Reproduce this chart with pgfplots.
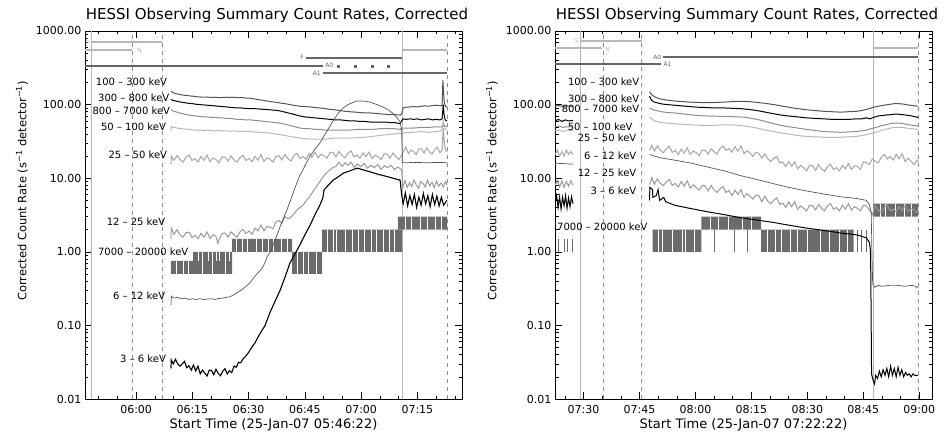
\documentclass[border=0pt]{standalone}
\usepackage{fontspec}
\setmainfont{DejaVu Sans}
\usepackage{pgfplots}
\pgfplotsset{compat=1.18}

\definecolor{cA}{gray}{0.33}  % 100-300, 6-12
\definecolor{cB}{gray}{0.55}  % 800-7000
\definecolor{cC}{gray}{0.72}  % 50-100
\definecolor{cD}{gray}{0.67}  % 25-50
\definecolor{cE}{gray}{0.60}  % 12-25
\definecolor{cF}{gray}{0.42}  % 7000-20000
\definecolor{cS}{gray}{0.40}  % state bars (dark)
\definecolor{cL}{gray}{0.72}  % state bars (light), solid verticals
\definecolor{cV}{gray}{0.55}  % dashed verticals

\tikzset{
  lab/.style={font=\fontsize{10}{12}\selectfont, inner sep=0pt},
  stl/.style={font=\fontsize{6}{7}\selectfont, inner sep=0pt},
  band/.style={fill=cF, draw=none},
  gapl/.style={white, line width=0.8pt},
  vsol/.style={cL, line width=0.8pt},
  vdash/.style={cV, line width=0.6pt, dash pattern=on 4pt off 4pt},
  sbar/.style={line width=1.6pt},
  ttl/.style={font=\fontsize{15}{18}\selectfont, inner sep=0pt},
  ylab/.style={font=\fontsize{11.5}{14}\selectfont, inner sep=0pt, rotate=90},
}

\begin{document}
\begin{tikzpicture}
\useasboundingbox (-85pt,-39pt) rectangle (860pt,399pt);

% ---------------- left panel ----------------
\begin{axis}[scale only axis, width=377pt, height=368pt, at={(0pt,0pt)}, anchor=south west,
  ymode=log, ymin=0.01, ymax=1000,
  ytick={0.01,0.1,1,10,100,1000},
  yticklabels={0.01,0.10,1.00,10.00,100.00,1000.00},
  minor ytick={0.02,0.03,0.04,0.05,0.06,0.07,0.08,0.09,0.2,0.3,0.4,0.5,0.6,0.7,0.8,0.9,2,3,4,5,6,7,8,9,20,30,40,50,60,70,80,90,200,300,400,500,600,700,800,900},
  tick align=inside, major tick length=7pt, minor tick length=3.5pt,
  axis line style={line width=0.6pt},
  every tick/.append style={black, line width=0.5pt},
  tick label style={font=\fontsize{11}{13}\selectfont},
  xticklabel style={yshift=-3pt},
  xlabel style={font=\fontsize{13}{15}\selectfont, at={(axis description cs:0.5,-0.071)}, anchor=center},
  unbounded coords=jump,
  xmin=346.37, xmax=446.9,
  xtick={360,375,390,405,420,435},
  xticklabels={06:00,06:15,06:30,06:45,07:00,07:15},
  minor xtick={350,355,365,370,380,385,395,400,410,415,425,430,440,445},
  xlabel={Start Time (25-Jan-07 05:46:22)}]

\addplot[vsol] coordinates {(348.2,0.01)(348.2,1000)};
\addplot[vdash] coordinates {(358.9,0.01)(358.9,1000)};
\addplot[vdash] coordinates {(366.9,0.01)(366.9,1000)};
\addplot[vsol] coordinates {(430.9,0.01)(430.9,1000)};
\addplot[vdash] coordinates {(442.9,0.01)(442.9,1000)};

% state bars
\addplot[sbar, cL] coordinates {(348.2,709)(366.9,709)};
\addplot[sbar, cL] coordinates {(346.37,552)(358.9,552)};
\addplot[sbar, cL] coordinates {(431.2,552)(442.9,552)};
\addplot[sbar, cS] coordinates {(346.37,334)(409.8,334)};
\addplot[sbar, cS] coordinates {(405.3,430)(430.9,430)};
\addplot[sbar, cS] coordinates {(409.8,268)(442.9,268)};
\addplot[only marks, mark=square*, mark size=1pt, cS] coordinates {(413.8,334)(418.4,334)(422.9,334)(427.2,334)};

% 7000-20000 keV
\addplot[band] coordinates {(369.3,0.5)(369.3,0.75)(375.2,0.75)(375.2,0.5)(369.3,0.5)};
\addplot[band] coordinates {(375.2,0.5)(375.2,1.0)(385.6,1.0)(385.6,0.5)(375.2,0.5)};
\addplot[band] coordinates {(385.6,1.0)(385.6,1.5)(401.6,1.5)(401.6,1.0)(385.6,1.0)};
\addplot[band] coordinates {(401.6,0.5)(401.6,1.0)(409.6,1.0)(409.6,0.5)(401.6,0.5)};
\addplot[band] coordinates {(409.6,1.0)(409.6,2.0)(430.9,2.0)(430.9,1.0)(409.6,1.0)};
\addplot[band] coordinates {(429.8,2.0)(429.8,3.0)(442.9,3.0)(442.9,2.0)(429.8,2.0)};
\addplot[gapl] coordinates {(370.8,0.5)(370.8,0.75)(370.8,nan)(372.6,0.5)(372.6,0.75)(372.6,nan)(374.0,0.5)(374.0,0.75)(374.0,nan)
 (377.8,0.5)(377.8,1)(377.8,nan)(380.4,0.5)(380.4,1)(380.4,nan)(383.9,0.5)(383.9,1)(383.9,nan)
 (376.5,0.75)(376.5,1)(376.5,nan)(379.2,0.75)(379.2,1)(379.2,nan)(381.5,0.75)(381.5,1)(381.5,nan)(382.2,0.75)(382.2,1)(382.2,nan)(384.8,0.75)(384.8,1)(384.8,nan)
 (386.8,1)(386.8,1.5)(386.8,nan)(388.3,1)(388.3,1.5)(388.3,nan)(389.6,1)(389.6,1.5)(389.6,nan)(392.0,1)(392.0,1.5)(392.0,nan)(393.8,1)(393.8,1.5)(393.8,nan)
 (395.2,1)(395.2,1.5)(395.2,nan)(396.6,1)(396.6,1.5)(396.6,nan)(398.8,1)(398.8,1.5)(398.8,nan)(400.4,1)(400.4,1.5)(400.4,nan)
 (402.9,0.5)(402.9,1)(402.9,nan)(404.6,0.5)(404.6,1)(404.6,nan)(406.0,0.5)(406.0,1)(406.0,nan)(408.2,0.5)(408.2,1)(408.2,nan)
 (410.9,1)(410.9,2)(410.9,nan)(412.6,1)(412.6,2)(412.6,nan)(413.4,1)(413.4,2)(413.4,nan)(415.8,1)(415.8,2)(415.8,nan)(417.6,1)(417.6,2)(417.6,nan)
 (419.3,1)(419.3,2)(419.3,nan)(421.0,1)(421.0,2)(421.0,nan)(422.8,1)(422.8,2)(422.8,nan)(424.1,1)(424.1,2)(424.1,nan)(425.9,1)(425.9,2)(425.9,nan)
 (427.6,1)(427.6,2)(427.6,nan)(429.0,1)(429.0,2)(429.0,nan)
 (431.9,2)(431.9,3)(431.9,nan)(433.5,2)(433.5,3)(433.5,nan)(435.8,2)(435.8,3)(435.8,nan)(437.6,2)(437.6,3)(437.6,nan)(439.9,2)(439.9,3)(439.9,nan)(441.4,2)(441.4,3)};

% 50-100 keV
\addplot[cC, line width=1pt] coordinates {(369.3,44)(369.4,50)(370,49)(371,48)(372,47)(373,46.5)(374,46)(375,45.5)(376,45)(377,45)(378,44.5)(379,45)(380,44.5)(381,44)(382,44.5)(383,44)(384,44)(385,43.5)(386,44)(387,43.5)(388,43)(389,43.5)(390.4,43)(391.7,42.5)(393,42)(394.4,41.5)(395.7,41)(397,40)(398.4,39)(399.7,38)(401,37)(402.4,36)(403.7,35)(405,34.5)(406.4,34)(407.7,34)(409,34)(410.4,34)(411.7,34.5)(413,35)(415,35)(417,35)(419,35.5)(421,36)(423,37)(425,38)(427,39)(429,40)(430.4,41)(430.8,40)(432,42)(434,42)(436,43)(438,42)(440,43)(441.5,44)(441.9,60)(442.2,48)(442.9,45)};
% 25-50 keV
\addplot[cD, line width=1.1pt] coordinates {(369.3,15.5)(369.4,20)(370.1,17.5)(370.9,20.3)(371.7,18.0)(372.5,16.6)(373.3,19.2)(374.1,20.6)(374.9,17.4)(375.7,18.5)(376.5,16.6)(377.3,19.7)(378.1,17.5)(378.9,20.6)(379.7,16.8)(380.5,18.8)(381.3,17.9)(382.1,16.2)(382.9,19.5)(383.7,19.3)(384.5,17.0)(385.3,20.1)(386.1,17.7)(386.9,16.5)(387.7,19.0)(388.5,20.5)(389.3,17.4)(390.1,18.5)(390.9,16.7)(391.7,19.8)(392.5,17.6)(393.3,20.7)(394.1,16.9)(394.9,18.9)(395.7,18.1)(396.5,16.5)(397.3,19.8)(398.1,20.1)(398.9,17.7)(399.7,20.9)(400.5,18.4)(401.3,17.1)(402.1,20.3)(402.9,21.8)(403.7,18.5)(404.5,19.7)(405.3,18.2)(406.1,21.6)(406.9,19.2)(407.7,22.6)(408.5,18.9)(409.3,21.1)(410.1,20.1)(410.9,18.7)(411.7,22.5)(412.5,22.3)(413.3,19.5)(414.1,23.1)(414.9,20.4)(415.7,18.9)(416.5,21.8)(417.3,23.5)(418.1,19.5)(418.9,20.7)(419.7,18.7)(420.5,22.1)(421.3,19.7)(422.1,22.6)(422.9,18.4)(423.7,20.6)(424.5,19.6)(425.3,17.8)(426.1,21.4)(426.9,21.2)(427.7,18.6)(428.5,22)(429.3,19.4)(430.1,18)(430.8,20.5)(431.2,22.6)(431.9,26.5)(432.6,21.6)(433.3,24.2)(434.0,23.0)(434.7,20.9)(435.4,25.1)(436.1,24.9)(436.8,21.9)(437.5,25.9)(438.2,22.8)(438.9,21.2)(439.6,24.4)(440.3,26.3)(441.0,22.3)(441.6,23.7)(441.9,48)(442.2,30)(442.5,24)(442.9,23)};
% 12-25 keV
\addplot[cE, line width=1pt] coordinates {(369.3,1.5)(369.4,2.1)(370.1,1.72)(370.9,2.0)(371.7,1.70)(372.5,1.58)(373.3,1.82)(374.1,1.85)(374.9,1.57)(375.7,1.67)(376.5,1.50)(377.3,1.78)(378.1,1.58)(378.9,1.86)(379.7,1.52)(380.5,1.70)(381.3,1.62)(381.8,1.3)(382.1,1.47)(382.9,1.77)(383.7,1.80)(384.5,1.58)(385.3,1.87)(386.1,1.70)(386.9,1.58)(387.7,1.87)(388.5,2.02)(389.3,1.76)(390.1,1.92)(390.9,1.73)(391.7,2.1)(392.5,1.92)(393.3,2.32)(394.1,1.93)(394.9,2.21)(395.7,2.16)(396.5,2.05)(397.3,2.57)(398.1,2.65)(398.9,2.42)(399.7,3.02)(400.5,2.81)(401.3,2.95)(402.1,3.3)(402.9,3.7)(403.7,4.0)(404.5,4.3)(405.3,4.9)(406.1,5.5)(406.9,6.3)(407.7,7.2)(408.5,8.3)(409.3,9.5)(410.1,10.8)(410.9,12)(411.7,13)(412.5,14)(413.3,14.5)(414.1,16.5)(414.9,14.4)(415.7,16.2)(416.5,15)(417.3,16.6)(418.1,14)(419.0,15.6)(419.9,14.3)(420.8,15.8)(421.7,13.7)(422.6,15)(423.5,13.9)(424.4,15.4)(425.3,13.2)(426.2,14.8)(427.1,13.9)(428.0,15)(428.9,13.1)(429.8,14.2)(430.8,13)(431.1,7.5)(431.7,9.3)(432.3,7.5)(432.9,8.7)(433.5,7.7)(434.1,9.5)(434.7,8.1)(435.3,7.3)(435.9,9.0)(436.5,8.5)(437.1,7.6)(437.7,9.4)(438.3,7.9)(438.9,8.8)(439.5,7.4)(440.1,9.1)(440.7,7.8)(441.3,8.6)(441.9,7.6)(442.5,9.0)(442.9,8.0)};
% 800-7000 keV
\addplot[cB, line width=1pt] coordinates {(369.3,86)(369.8,82)(370.5,80)(371.2,78)(372,76)(373,74)(374,72)(375,71)(376,70)(377,69)(378,68)(379,68)(380,67)(381,67)(382,66)(383,66)(384,65)(385,65)(386,64)(387,63)(388,63)(389,62)(390.4,62)(391.7,61)(393,60)(394.4,59)(395.7,58)(397,57)(398.4,56)(399.7,54)(401,52)(402.4,50)(403.7,48)(405,47)(406.4,47)(407.7,46)(409,46)(410.4,45)(411.7,45)(413,45)(415,45)(417,45)(419,46)(421,46)(423,46)(425,47)(427,47)(429,47)(430.4,46)(430.8,48)(432,48)(434,48)(436,49)(438,49)(440,50)(441.5,50)(442,52)(442.9,50)};
% 100-300 keV
\addplot[cA, line width=1pt] coordinates {(369.3,152)(369.8,146)(370.5,141)(371.2,139)(372,136)(372.8,134)(373.6,133)(374.4,131)(375.2,130)(376,128)(377,127)(378,126)(379,127)(380,125)(381,126)(382,124)(383,125)(384,126)(385,125)(386,126)(387,124)(388,125)(389,123)(390.4,122)(391.7,119)(393,116)(394.4,113)(395.7,110)(397,108)(398.4,105)(399.7,103)(401,100)(402.4,97)(403.7,95)(405,94)(406.4,93)(407.7,91)(409,90)(410.4,88)(411.7,86)(413,85)(414.4,83)(415.7,81)(417,80)(418.4,79)(419.7,78)(421,77)(422.4,77)(423.7,76)(425,75)(426.4,74)(427.7,73)(429,73)(430.4,72)(430.8,75)(431.2,90)(432,92)(433,93)(434,94)(435,93)(436,95)(437,96)(438,95)(439,97)(440,98)(441,97)(441.6,96)(441.8,216)(442,140)(442.2,105)(442.5,95)(442.9,93)};
% 300-800 keV
\addplot[black, line width=1pt] coordinates {(369.3,118)(369.8,114)(370.5,112)(371.2,110)(372,108)(373,106)(374,104)(375,103)(376,101)(377,100)(378,99)(379,98)(380,97)(381,96)(382,95)(383,94)(384,93)(385,92)(386,91)(387,90)(388,90)(389,89)(390.4,88)(391.7,88)(393,87)(394.4,86)(395.7,85)(397,84)(398.4,82)(399.7,79)(401,76)(402.4,73)(403.7,70)(405,68)(406.4,67)(407.7,66)(409,65)(410.4,64)(411.7,63)(413,62)(414.4,62)(415.7,61)(417,60)(418.4,60)(419.7,59)(421,59)(422.4,58)(423.7,58)(425,58)(426.4,58)(427.7,57)(429,57)(430.4,55)(430.8,60)(431.2,64)(432,63)(433,64)(434,63)(435,64)(436,62)(437,63)(438,64)(439,62)(440,63)(441,62)(441.6,64)(441.9,100)(442.1,75)(442.4,62)(442.9,60)};
% 6-12 keV
\addplot[cA, line width=0.7pt] coordinates {(369.3,0.19)(369.4,0.25)(370,0.235)(371,0.24)(372,0.23)(373,0.235)(374,0.225)(375,0.23)(376,0.225)(377,0.23)(378,0.225)(379,0.228)(380,0.23)(381,0.225)(382,0.232)(383,0.235)(384,0.24)(385,0.245)(386,0.26)(387,0.28)(388,0.3)(389,0.33)(390.4,0.38)(391.3,0.44)(392.2,0.5)(393,0.55)(393.6,0.6)(394.3,0.7)(394.9,0.85)(395.5,0.95)(396.2,1.1)(396.9,1.4)(397.6,1.7)(398.4,2.2)(399.2,2.8)(400.2,3.7)(401.3,5.2)(402.4,7.5)(403.5,10.5)(404.5,13)(405.5,16.5)(406.4,20)(407.7,25)(409,30)(410.2,38)(411.4,48)(412.5,60)(413.8,75)(415.2,90)(416.5,100)(418,108)(418.9,112)(420.5,112)(422.4,108)(424,101)(425.8,93)(427.2,85)(428.5,76)(429.5,67)(430.4,58)(430.8,45)(431.0,16.3)(432,16.2)(434,16.4)(436,16.3)(438,16.2)(440,16.4)(442,16.3)(442.9,16.2)};
% 3-6 keV
\addplot[black, line width=1.1pt] coordinates {(369.3,0.026)(369.35,0.034)(369.9,0.030)(370.5,0.0345)(371.1,0.030)(371.7,0.028)(372.3,0.030)(372.9,0.0325)(373.5,0.0266)(374.1,0.0283)(374.7,0.0246)(375.3,0.029)(375.9,0.024)(376.5,0.028)(377.1,0.022)(377.7,0.0247)(378.3,0.0225)(378.9,0.0205)(379.5,0.0246)(380.1,0.0244)(380.7,0.0214)(381.3,0.0253)(381.9,0.0223)(382.5,0.0207)(383.1,0.0239)(383.7,0.0258)(384.3,0.0219)(384.9,0.0242)(385.5,0.0228)(386.1,0.028)(386.7,0.027)(387.3,0.0315)(387.9,0.031)(388.5,0.035)(389.2,0.038)(390.0,0.043)(390.8,0.05)(391.7,0.058)(393,0.077)(394.4,0.1)(395.7,0.15)(397,0.21)(398.4,0.3)(399.7,0.45)(401,0.7)(402.9,1.05)(403.7,1.25)(405,1.7)(406.4,2.3)(407.7,3.2)(409,4.3)(409.8,5.4)(410.1,6.9)(411,7.8)(412.5,9.4)(414,10.5)(415.2,11.7)(416.5,12.3)(418.9,13.7)(420.5,13)(422.4,12.2)(424.5,11.3)(426.4,10.7)(428.5,10)(430.4,9.4)(430.8,6)(431.2,4.5)(431.8,6.3)(432.4,4.2)(433,5.8)(433.6,4.4)(434.2,6)(434.8,4)(435.4,5.5)(436,4.3)(436.6,6.2)(437.2,4.5)(437.8,5.8)(438.4,4.1)(439,6)(439.6,4.4)(440.2,5.7)(440.8,4.2)(441.4,5.5)(442,4.3)(442.9,5)};

% labels
\node[stl, text=cL, anchor=west] at (axis cs:346.6,720) {S};
\node[stl, text=cL, anchor=west] at (axis cs:360.2,540) {N};
\node[stl, text=cS, anchor=east] at (axis cs:404.8,440) {F};
\node[stl, text=cS, anchor=west] at (axis cs:410.4,340) {A0};
\node[stl, text=cS, anchor=east] at (axis cs:409.3,268) {A1};
\node[lab, anchor=east] at (axis cs:368.3,203) {100 -- 300 keV};
\node[lab, anchor=east] at (axis cs:368.9,123) {300 -- 800 keV};
\node[lab, anchor=east] at (axis cs:369.1,82) {800 -- 7000 keV};
\node[lab, anchor=east] at (axis cs:368.0,49.6) {50 -- 100 keV};
\node[lab, anchor=east] at (axis cs:368.3,20.7) {25 -- 50 keV};
\node[lab, anchor=east] at (axis cs:367.8,2.54) {12 -- 25 keV};
\node[lab, anchor=west] at (axis cs:349.8,1.0) {7000 -- 20000 keV};
\node[lab, anchor=east] at (axis cs:367.8,0.25) {6 -- 12 keV};
\node[lab, anchor=east] at (axis cs:368.0,0.035) {3 -- 6 keV};
\end{axis}
\node[ttl] at (192pt,384pt) {HESSI Observing Summary Count Rates, Corrected};
\node[ylab] at (-63pt,208pt) {Corrected Count Rate (s\textsuperscript{−1} detector\textsuperscript{−1})};

% ---------------- right panel ----------------
\begin{axis}[scale only axis, width=377pt, height=368pt, at={(470pt,0pt)}, anchor=south west,
  ymode=log, ymin=0.01, ymax=1000,
  ytick={0.01,0.1,1,10,100,1000},
  yticklabels={0.01,0.10,1.00,10.00,100.00,1000.00},
  minor ytick={0.02,0.03,0.04,0.05,0.06,0.07,0.08,0.09,0.2,0.3,0.4,0.5,0.6,0.7,0.8,0.9,2,3,4,5,6,7,8,9,20,30,40,50,60,70,80,90,200,300,400,500,600,700,800,900},
  tick align=inside, major tick length=7pt, minor tick length=3.5pt,
  axis line style={line width=0.6pt},
  every tick/.append style={black, line width=0.5pt},
  tick label style={font=\fontsize{11}{13}\selectfont},
  xticklabel style={yshift=-3pt},
  xlabel style={font=\fontsize{13}{15}\selectfont, at={(axis description cs:0.5,-0.071)}, anchor=center},
  unbounded coords=jump,
  xmin=442.37, xmax=543.4,
  xtick={450,465,480,495,510,525,540},
  xticklabels={07:30,07:45,08:00,08:15,08:30,08:45,09:00},
  minor xtick={445,455,460,470,475,485,490,500,505,515,520,530,535},
  xlabel={Start Time (25-Jan-07 07:22:22)}]

\addplot[vsol] coordinates {(449.3,0.01)(449.3,1000)};
\addplot[vdash] coordinates {(455.2,0.01)(455.2,1000)};
\addplot[vdash] coordinates {(465.6,0.01)(465.6,1000)};
\addplot[vsol] coordinates {(527.7,0.01)(527.7,1000)};
\addplot[vdash] coordinates {(539.7,0.01)(539.7,1000)};

% state bars
\addplot[sbar, cL] coordinates {(449.3,732)(465.6,732)};
\addplot[sbar, cL] coordinates {(442.37,587)(454.9,587)};
\addplot[sbar, cL] coordinates {(527.7,587)(539.7,587)};
\addplot[sbar, cS] coordinates {(471.4,443)(539.7,443)};
\addplot[sbar, cS] coordinates {(442.37,356)(470.9,356)};

% 7000-20000 keV
\addplot[cF, line width=0.8pt] coordinates {(443.2,1)(443.2,1.5)(443.2,nan)(444.8,1)(444.8,1.5)(444.8,nan)(445.8,1)(445.8,1.5)(445.8,nan)(447.0,1)(447.0,1.5)(447.0,nan)
 (485,1)(485,2)(485,nan)(490.5,1)(490.5,2)(490.5,nan)(494,1)(494,2)(494,nan)
 (523.3,1)(523.3,2)(523.3,nan)(524.5,1)(524.5,2)(524.5,nan)(525.8,1)(525.8,2)};
\addplot[band] coordinates {(468.5,1.0)(468.5,2.0)(481.6,2.0)(481.6,1.0)(468.5,1.0)};
\addplot[band] coordinates {(481.6,2.0)(481.6,3.0)(497.6,3.0)(497.6,2.0)(481.6,2.0)};
\addplot[band] coordinates {(497.6,1.0)(497.6,2.0)(522.4,2.0)(522.4,1.0)(497.6,1.0)};
\addplot[band] coordinates {(527.7,3.0)(527.7,4.5)(539.7,4.5)(539.7,3.0)(527.7,3.0)};
\addplot[gapl] coordinates {(470.0,1)(470.0,2)(470.0,nan)(471.2,1)(471.2,2)(471.2,nan)(473.9,1)(473.9,2)(473.9,nan)(476.5,1)(476.5,2)(476.5,nan)(477.3,1)(477.3,2)(477.3,nan)(479.8,1)(479.8,2)(479.8,nan)
 (483.9,2)(483.9,3)(483.9,nan)(486.2,2)(486.2,3)(486.2,nan)(488.8,2)(488.8,3)(488.8,nan)(492.5,2)(492.5,3)(492.5,nan)(495.0,2)(495.0,3)(495.0,nan)
 (499.2,1)(499.2,2)(499.2,nan)(501.3,1)(501.3,2)(501.3,nan)(503.0,1)(503.0,2)(503.0,nan)(505.5,1)(505.5,2)(505.5,nan)(507.4,1)(507.4,2)(507.4,nan)
 (510.0,1)(510.0,2)(510.0,nan)(513.5,1)(513.5,2)(513.5,nan)(516.0,1)(516.0,2)(516.0,nan)(518.6,1)(518.6,2)(518.6,nan)(520.8,1)(520.8,2)(520.8,nan)
 (529.5,3)(529.5,4.5)(529.5,nan)(531.0,3)(531.0,4.5)(531.0,nan)(533.6,3)(533.6,4.5)(533.6,nan)(536.0,3)(536.0,4.5)(536.0,nan)(538.0,3)(538.0,4.5)};

% segment before the night gap
\addplot[cA, line width=1pt] coordinates {(442.4,95)(443.5,97)(444.5,94)(445.5,96)(446.5,95)(447.2,94)};
\addplot[black, line width=1pt] coordinates {(442.4,60)(443.3,63)(444.2,59)(445.1,62)(446,60)(447.2,61)};
\addplot[cB, line width=1pt] coordinates {(442.4,50)(443.5,51)(444.5,49)(445.5,50)(447.2,50)};
\addplot[cC, line width=1pt] coordinates {(442.4,44)(443.5,45)(444.5,43)(445.5,45)(447.2,44)};
\addplot[cD, line width=1.1pt] coordinates {(442.4,21)(443,24)(443.6,20)(444.2,23)(444.8,20)(445.4,24)(446,21)(446.6,23)(447.2,21)};
\addplot[cA, line width=0.7pt] coordinates {(442.4,16)(447.2,15.5)};
\addplot[cE, line width=1pt] coordinates {(442.4,8)(443,9.3)(443.6,7.6)(444.2,9.2)(444.8,7.5)(445.4,9)(446,7.8)(446.6,9.2)(447.2,8)};
\addplot[black, line width=1pt] coordinates {(442.4,4.5)(442.8,5.8)(443.2,4)(443.6,5.6)(444,3.8)(444.4,5.5)(444.8,4.2)(445.2,5.8)(445.6,3.9)(446,5.4)(446.4,4.1)(446.8,5.6)(447.2,4.5)};

% 50-100 keV
\addplot[cC, line width=1pt] coordinates {(467.7,68)(469,60)(471,57)(472.5,56)(474.4,55)(476.4,54)(478.4,53)(480.8,52.5)(483.2,52)(485.5,52.5)(487.7,53)(490,53)(492.2,52)(494.3,50)(496.5,48)(498.7,45)(501,43)(503,41)(505,40)(507.4,38)(509.8,37)(512,36.5)(514.4,36)(516.6,36)(518.9,36)(521,36.5)(523.2,37)(524.5,38)(525.8,39)(527.7,41)(529,43)(530,45)(531,46)(532.2,48)(533.3,49)(534.4,49)(535.5,49)(536.5,48)(538,47)(539.7,46)};
% 25-50 keV
\addplot[cD, line width=1.1pt] coordinates {(467.7,24)(468.3,28)(469.0,23.3)(469.8,27.5)(470.6,23.9)(471.4,22.1)(472.2,25.2)(473.0,27.1)(473.8,22.4)(474.6,23.8)(475.4,20.9)(476.2,24.8)(477.0,21.9)(477.8,25.8)(478.6,20.9)(479.4,23.4)(480.2,22.1)(481.0,20.1)(481.8,24.1)(482.6,23.9)(483.4,21.2)(484.2,25.1)(485.0,22.8)(485.8,21.2)(486.6,25.5)(487.4,27.4)(488.2,23.8)(489.0,25.3)(489.8,22.6)(490.6,26.8)(491.4,23.3)(492.2,27.5)(493.0,21.6)(493.8,23.7)(494.6,22.1)(495.4,19.8)(496.2,22.5)(497.0,21.7)(497.8,18.6)(498.6,21.5)(499.4,18.4)(500.2,16.9)(501.0,18.7)(501.8,19.6)(502.6,16.1)(503.4,16.6)(504.2,14.4)(505.0,16.8)(505.8,14.5)(506.6,16.8)(507.4,13.4)(508.2,14.9)(509.0,13.9)(509.8,12.6)(510.6,15.0)(511.4,14.8)(512.2,12.8)(513.0,15.2)(513.8,13.4)(514.6,12.4)(515.4,14.4)(516.2,15.5)(517.0,13.1)(517.8,13.9)(518.6,12.6)(519.4,14.9)(520.2,13.4)(521.0,15.8)(521.8,13.2)(522.6,14.7)(523.4,14.5)(524.2,13.2)(525.0,16.6)(525.8,16.4)(526.6,15.3)(527.4,18.2)(528.2,17.0)(529.0,16.1)(529.8,19.2)(530.6,21.0)(531.4,18.3)(532.2,19.7)(533.0,17.7)(533.8,21.1)(534.6,18.4)(535.4,21.5)(536.2,16.8)(537.0,18.6)(537.8,17.0)(538.6,15.2)(539.4,17.7)(539.7,16.3)};
% 12-25 keV
\addplot[cE, line width=1pt] coordinates {(467.7,8.2)(468.3,10.2)(469.0,8.3)(469.8,9.8)(470.6,8.5)(471.4,7.9)(472.2,8.9)(473.0,9.6)(473.8,8.0)(474.6,8.5)(475.4,7.6)(476.2,9.0)(477.0,7.8)(477.8,9.2)(478.6,7.3)(479.4,8.1)(480.2,7.5)(481.0,6.9)(481.8,8.0)(482.6,7.9)(483.4,6.7)(484.2,8.0)(485.0,6.9)(485.8,6.4)(486.6,7.2)(487.4,7.7)(488.2,6.4)(489.0,6.8)(489.8,5.8)(490.6,6.9)(491.4,6.0)(492.2,7.0)(493.0,5.5)(493.8,6.2)(494.6,5.7)(495.4,5.2)(496.2,5.9)(497.0,5.8)(497.8,4.8)(498.6,5.7)(499.4,4.85)(500.2,4.5)(501.0,5.0)(501.8,5.4)(502.6,4.4)(503.4,4.6)(504.2,4.0)(505.0,4.75)(505.8,4.1)(506.6,4.8)(507.4,3.8)(508.2,4.2)(509.0,3.9)(509.8,3.6)(510.6,4.3)(511.4,4.2)(512.2,3.7)(513.0,4.4)(513.8,3.9)(514.6,3.6)(515.4,4.2)(516.2,4.5)(517.0,3.8)(517.8,4.0)(518.6,3.6)(519.4,4.3)(520.2,3.8)(521.0,4.5)(521.8,3.7)(522.6,4.1)(523.4,3.9)(524.2,3.6)(525.0,4.3)(525.8,4.2)(526.6,3.7)(527.4,3.2)(528.2,4.2)(529.0,3.7)(529.8,3.4)(530.6,4.0)(531.4,4.3)(532.2,3.6)(533.0,3.8)(533.8,3.5)(534.6,4.1)(535.4,3.6)(536.2,4.3)(537.0,3.5)(537.8,3.9)(538.6,3.7)(539.4,3.4)(539.7,3.6)};
% 800-7000 keV
\addplot[cB, line width=1pt] coordinates {(467.7,90)(469,84)(471,80)(472.5,78)(474.4,77)(476.4,75)(478.4,73)(480.8,71)(483.2,70)(485.5,69.5)(487.7,69)(490,68.5)(492.2,68)(494.3,66)(496.5,63)(498.7,59)(501,55)(503,52)(505,50)(507.4,48)(509.8,46)(512,44.5)(514.4,43)(516.6,42.5)(518.9,42)(521,42.5)(523.2,43)(524.5,44)(525.8,45)(527.7,48)(529,50)(530,52)(531,53)(532.2,55)(533.3,56)(534.4,56)(535.5,55.5)(536.5,54)(538,52.5)(539.7,51)};
% 100-300 keV
\addplot[cA, line width=1pt] coordinates {(467.7,150)(468.2,138)(469,128)(470,122)(471,118)(472.5,115)(474.4,112)(476.4,110)(478.4,108)(480.8,107)(483.2,106)(485.5,107)(487.7,108)(490,110)(492.2,111)(494.3,110)(496.5,107)(498.7,104)(501,100)(503,96)(505,92)(507.4,88)(509.8,85)(512,83)(514.4,81)(516.6,80)(518.9,79)(521,80)(523.2,81)(524.5,83)(525.8,86)(526.8,89)(527.7,92)(529,95)(530,97)(531,99)(532.2,101)(533.3,103)(534.4,103)(535.5,102)(536.5,100)(538,97)(539.7,95)};
% 300-800 keV
\addplot[black, line width=1pt] coordinates {(467.7,130)(468.2,115)(469,108)(470,105)(471,102)(472.5,100)(474.4,98)(476.4,96)(478.4,94)(480.8,92)(483.2,91)(485.5,90)(487.7,90)(490,89)(492.2,88)(494.3,86)(496.5,83)(498.7,79)(501,75)(503,72)(505,70)(507.4,68)(509.8,66)(512,65)(514.4,64)(516.6,63)(518.9,63)(521,63)(523.2,64)(524.5,64)(525.8,66)(526.8,64)(527.7,67)(529,70)(530,71)(531,72)(532.2,73)(533.3,74)(534.4,74)(535.5,73)(536.5,72)(538,70)(539.7,67)};
% 6-12 keV
\addplot[cA, line width=0.7pt] coordinates {(467.7,21)(470.4,19)(474.4,17.6)(478.4,16.2)(483.2,14.2)(487.7,12.6)(492.2,10.8)(496.5,9.6)(501,8.4)(505,7.5)(509.8,6.7)(514.4,6.1)(518.9,5.6)(523.2,5.3)(525.8,5.0)(526.6,4.4)(527.1,3.5)(527.3,1.0)(527.5,0.37)(528,0.33)(529,0.35)(530,0.34)(532,0.35)(534,0.35)(536,0.34)(538,0.35)(539,0.34)(539.7,0.32)};
% 3-6 keV
\addplot[black, line width=1pt] coordinates {(467.7,5)(467.8,7.5)(468.5,7)(468.6,5.5)(469.5,5.8)(470,7)(470.4,5)(471.5,5.5)(472,4.8)(474.4,4.3)(478.4,3.9)(483.2,3.5)(487.7,3.2)(492.2,2.9)(496.5,2.7)(501,2.5)(505,2.3)(509.8,2.1)(514.4,1.95)(518.9,1.8)(523.2,1.7)(525.8,1.55)(526.6,1.35)(526.9,1.06)(527.0,0.5)(527.2,0.022)(527.6,0.018)(528,0.016)(528.3,0.021)(528.8,0.019)(529.3,0.024)(529.8,0.02)(530.3,0.025)(530.8,0.021)(531.3,0.026)(531.8,0.02)(532.3,0.028)(532.8,0.021)(533.3,0.026)(533.8,0.02)(534.3,0.027)(534.8,0.021)(535.3,0.025)(535.8,0.02)(536.3,0.023)(536.8,0.021)(537.3,0.022)(537.8,0.02)(538.3,0.022)(538.8,0.021)(539.7,0.021)};

% labels
\node[stl, text=cL, anchor=east] at (axis cs:448.8,732) {S};
\node[stl, text=cL, anchor=west] at (axis cs:455.8,570) {N};
\node[stl, text=cS, anchor=east] at (axis cs:470.9,443) {A0};
\node[stl, text=cS, anchor=west] at (axis cs:471.4,350) {A1};
\node[lab, anchor=east] at (axis cs:465.0,203) {100 -- 300 keV};
\node[lab, anchor=east] at (axis cs:465.0,119) {300 -- 800 keV};
\node[lab, anchor=east] at (axis cs:465.0,87) {800 -- 7000 keV};
\node[lab, anchor=east] at (axis cs:463.2,49.6) {50 -- 100 keV};
\node[lab, anchor=east] at (axis cs:464.2,35.2) {25 -- 50 keV};
\node[lab, anchor=east] at (axis cs:464.2,20) {6 -- 12 keV};
\node[lab, anchor=east] at (axis cs:464.2,11.8) {12 -- 25 keV};
\node[lab, anchor=east] at (axis cs:464.2,6.7) {3 -- 6 keV};
\node[lab, anchor=west] at (axis cs:442.9,2.17) {7000 -- 20000 keV};
\end{axis}
\node[ttl] at (662pt,384pt) {HESSI Observing Summary Count Rates, Corrected};
\node[ylab] at (407pt,208pt) {Corrected Count Rate (s\textsuperscript{−1} detector\textsuperscript{−1})};
\end{tikzpicture}
\end{document}
